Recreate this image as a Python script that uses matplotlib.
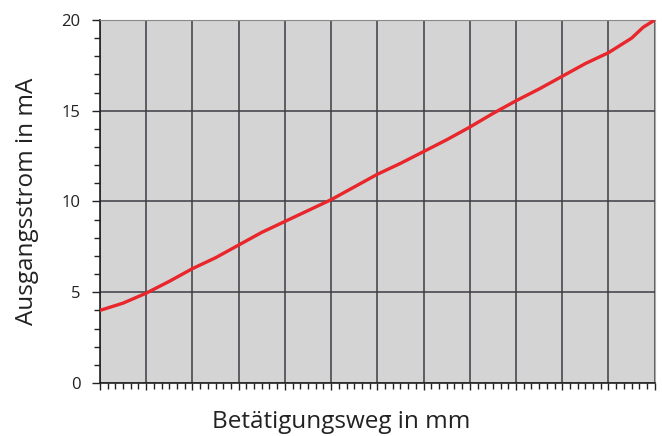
import matplotlib.pyplot as plt
import numpy as np
from matplotlib.ticker import MultipleLocator

# values (x in grid divisions, y in mA)
weg = [0, 0.5, 1, 1.5, 2, 2.5, 3, 3.5, 4, 4.5, 5, 5.5, 6, 6.5, 7, 7.5,
       8, 8.5, 9, 9.5, 10, 10.5, 11, 11.5, 11.75, 12]
strom = [4.0, 4.4, 4.95, 5.6, 6.3, 6.9, 7.6, 8.3, 8.9, 9.5, 10.1, 10.8, 11.5,
         12.1, 12.75, 13.4, 14.1, 14.85, 15.55, 16.2, 16.9, 17.6, 18.2, 19.0,
         19.6, 20.0]
y_ticks = [0, 5, 10, 15, 20]

plt.rcParams['font.family'] = ['Open Sans', 'DejaVu Sans']

fig = plt.figure(figsize=(6.62, 4.36), dpi=100)
ax = fig.add_axes([0.151, 0.1216, 0.838, 0.8325])
ax.set_facecolor('#d4d4d4')

ax.plot(weg, strom, color='#e8262b', lw=2.4, solid_capstyle='round', zorder=3)

ax.set_xlim(0, 12)
ax.set_ylim(0, 20)
ax.xaxis.set_major_locator(MultipleLocator(1))
ax.xaxis.set_minor_locator(MultipleLocator(1 / 6))
ax.set_yticks(y_ticks)
ax.yaxis.set_minor_locator(MultipleLocator(1))
ax.set_xticklabels([])

ax.grid(True, which='major', color='#3c3c44', lw=1.1)
ax.set_axisbelow(True)

ax.tick_params(axis='x', which='major', direction='out', length=5, width=1, color='#222')
ax.tick_params(axis='x', which='minor', direction='out', length=4, width=1, color='#222')
ax.tick_params(axis='y', which='major', direction='out', length=6, width=1,
               color='#222', labelsize=12, pad=8, labelcolor='#222')
ax.tick_params(axis='y', which='minor', direction='out', length=4, width=1, color='#222')

for s in ['left', 'bottom']:
    ax.spines[s].set_color('#222')
    ax.spines[s].set_linewidth(1.2)
ax.spines['top'].set_color('#888')
ax.spines['right'].set_color('#aaa')

ax.set_ylabel('Ausgangsstrom in mA', fontsize=17.5, labelpad=16, color='#222')
ax.set_xlabel('Betätigungsweg in mm', fontsize=17.5, labelpad=11, color='#222')
ax.xaxis.set_label_coords(0.434, -0.108)
ax.xaxis.label.set_va('center')

fig.savefig('out.png', dpi=100)
